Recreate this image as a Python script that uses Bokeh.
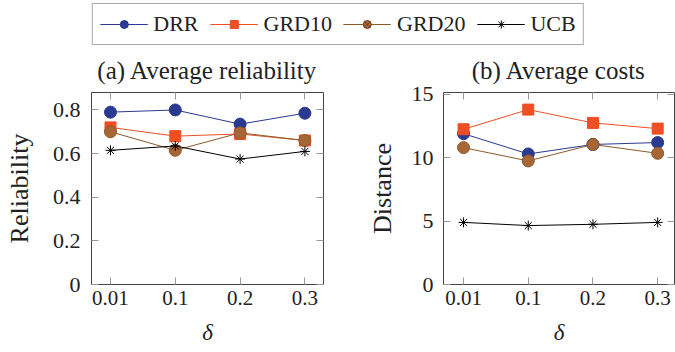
from bokeh.plotting import figure
from bokeh.models import Range1d, FixedTicker, LinearAxis, Legend, LegendItem
from bokeh.layouts import column, row
from bokeh.embed import file_html
from bokeh.resources import INLINE

# ---------------- data ----------------
deltas = ["0.01", "0.1", "0.2", "0.3"]
series_names = ["DRR", "GRD10", "GRD20", "UCB"]

rel_drr = [0.79, 0.80, 0.735, 0.785]
rel_grd10 = [0.72, 0.68, 0.69, 0.66]
rel_grd20 = [0.70, 0.615, 0.695, 0.66]
rel_ucb = [0.615, 0.635, 0.575, 0.61]

cost_drr = [11.9, 10.3, 11.05, 11.2]
cost_grd10 = [12.25, 13.8, 12.75, 12.3]
cost_grd20 = [10.8, 9.75, 11.05, 10.35]
cost_ucb = [4.9, 4.65, 4.75, 4.9]

rel_ticks = [0, 0.2, 0.4, 0.6, 0.8]
rel_tick_labels = ["0", "0.2", "0.4", "0.6", "0.8"]
cost_ticks = [0, 5, 10, 15]
cost_tick_labels = ["0", "5", "10", "15"]

# ---------------- styles ----------------
FONT = "Liberation Serif"
styles = {
    "DRR": dict(color="#2B3990", marker="circle", size=12, legend_marker="circle",
                fill="#2B3990", mline="#2B3990"),
    "GRD10": dict(color="#F04E23", marker="square", size=11, legend_marker="square",
                  fill="#F04E23", mline="#F04E23"),
    "GRD20": dict(color="#8B5A2B", marker="circle", size=12, legend_marker="circle_x",
                  fill="#A86535", mline="#6B4020"),
    "UCB": dict(color="#000000", marker="asterisk", size=10, legend_marker="asterisk",
                fill="#000000", mline="#000000"),
}

x_idx = list(range(len(deltas)))
x_labels = {i: d for i, d in enumerate(deltas)}

TICK_COLOR = "#999999"
FRAME_COLOR = "#444444"
PANEL_H = 306


def style_axis(ax, ticks, overrides):
    ax.ticker = FixedTicker(ticks=ticks)
    ax.major_label_overrides = overrides
    ax.major_tick_in = 7
    ax.major_tick_out = 0
    ax.minor_tick_in = 0
    ax.minor_tick_out = 0
    ax.major_tick_line_color = TICK_COLOR
    ax.axis_line_color = None
    ax.major_label_text_font = FONT
    ax.major_label_text_font_style = "normal"
    ax.major_label_text_color = "#222222"
    ax.axis_label_text_font = FONT
    ax.axis_label_text_font_style = "normal"
    ax.axis_label_text_color = "#222222"


def make_panel(title, ylabel, data, yticks, ylabels, yend, xr, width,
               min_left, min_right, tick_standoff, ylabel_standoff):
    p = figure(width=width, height=PANEL_H,
               x_range=Range1d(*xr), y_range=Range1d(0, yend),
               output_backend="svg", toolbar_location=None,
               min_border_left=min_left, min_border_right=min_right,
               min_border_top=46, min_border_bottom=68,
               x_axis_label="δ", y_axis_label=ylabel)
    p.grid.visible = False
    p.outline_line_color = FRAME_COLOR
    p.outline_line_width = 1
    p.background_fill_color = "white"
    p.border_fill_color = "white"

    p.title.text = title
    p.title.align = "center"
    p.title.text_font = FONT
    p.title.text_font_size = "25px"
    p.title.text_font_style = "normal"
    p.title.text_color = "#222222"
    p.title.standoff = 17

    yo = {t: l for t, l in zip(yticks, ylabels)}
    style_axis(p.xaxis[0], x_idx, x_labels)
    style_axis(p.yaxis[0], yticks, yo)
    p.xaxis[0].major_label_text_font_size = "21px"
    p.yaxis[0].major_label_text_font_size = "22px"
    p.xaxis[0].major_label_standoff = 6
    p.yaxis[0].major_label_standoff = tick_standoff
    p.xaxis[0].axis_label_text_font_size = "23px"
    p.xaxis[0].axis_label_text_font_style = "italic"
    p.xaxis[0].axis_label_standoff = 12
    p.yaxis[0].axis_label_text_font_size = "26px"
    p.yaxis[0].axis_label_standoff = ylabel_standoff

    # mirrored inward ticks on the top and right frame edges
    top = LinearAxis()
    style_axis(top, x_idx, {i: "" for i in x_idx})
    top.major_label_standoff = 0
    p.add_layout(top, "above")
    right = LinearAxis()
    style_axis(right, yticks, {t: "" for t in yticks})
    right.major_label_standoff = 0
    p.add_layout(right, "right")

    for name, vals in zip(series_names, data):
        st = styles[name]
        p.line(x_idx, vals, line_color=st["color"], line_width=1)
        p.scatter(x_idx, vals, marker=st["marker"], size=st["size"],
                  fill_color=st["fill"], line_color=st["color"], line_width=1)
    return p


p1 = make_panel("(a) Average reliability", "Reliability",
                [rel_drr, rel_grd10, rel_grd20, rel_ucb],
                rel_ticks, rel_tick_labels, 0.88, (-0.293, 3.287),
                363, 91, 40, 11, 16)
p2 = make_panel("(b) Average costs", "Distance",
                [cost_drr, cost_grd10, cost_grd20, cost_ucb],
                cost_ticks, cost_tick_labels, 15.15, (-0.31, 3.26),
                312, 80, 1, 10, 12)

# ---------------- legend strip ----------------
lf = figure(width=675, height=46, x_range=Range1d(0, 1), y_range=Range1d(100, 101),
            output_backend="svg", toolbar_location=None, min_border=0,
            x_axis_location=None, y_axis_location=None)
lf.grid.visible = False
lf.outline_line_color = None
items = []
for name, vals in zip(series_names, [rel_drr, rel_grd10, rel_grd20, rel_ucb]):
    st = styles[name]
    l = lf.line(x_idx, vals, line_color=st["color"], line_width=1)
    s = lf.scatter(x_idx, vals, marker=st["legend_marker"], size=st["size"] - 1,
                   fill_color=st["fill"], line_color=st["mline"], line_width=1)
    items.append(LegendItem(label=name, renderers=[l, s]))
legend = Legend(items=items, orientation="horizontal", location="top_center",
                glyph_width=48, glyph_height=20, label_standoff=6, spacing=11,
                padding=7, margin=3, label_text_font=FONT,
                label_text_font_style="normal",
                label_text_font_size="22px", label_text_color="#222222",
                border_line_color="#555555", border_line_width=1,
                background_fill_alpha=1.0)
lf.add_layout(legend)

layout = column(lf, row(p1, p2))
open("out.html", "w").write(file_html(layout, INLINE))
